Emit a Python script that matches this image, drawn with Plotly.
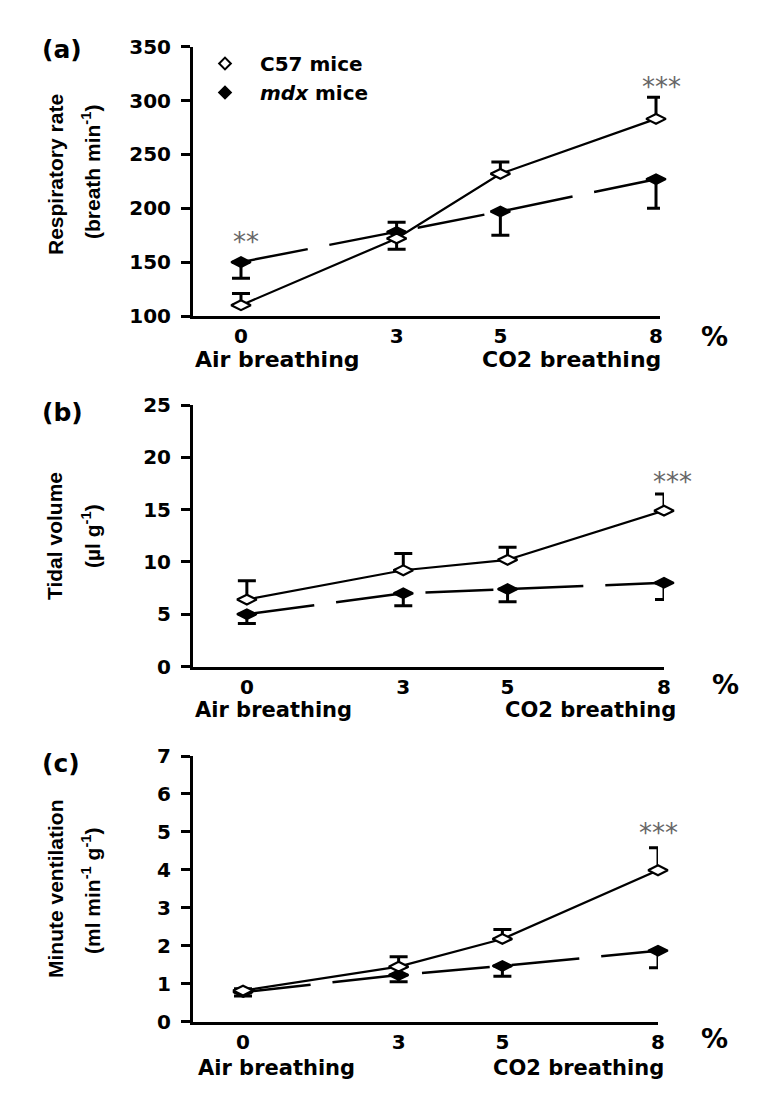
import plotly.graph_objects as go

# ---------------- data ----------------
co2_pct = [0, 3, 5, 8]
x_tick_labels = ["0", "3", "5", "8"]

rr_c57 = [110, 172, 232, 283]
rr_c57_err_up = [11, 0, 11, 20]
rr_c57_err_down = [0, 10, 0, 0]
rr_mdx = [150, 178, 197, 227]
rr_mdx_err_up = [0, 9, 0, 0]
rr_mdx_err_down = [15, 0, 22, 27]

tv_c57 = [6.4, 9.2, 10.2, 14.9]
tv_c57_err_up = [1.8, 1.6, 1.2, 1.6]
tv_mdx = [5.0, 7.0, 7.4, 8.0]
tv_mdx_err_down = [0.9, 1.2, 1.2, 1.6]

mv_c57 = [0.82, 1.45, 2.18, 3.99]
mv_c57_err_up = [0.05, 0.26, 0.25, 0.59]
mv_mdx = [0.78, 1.23, 1.47, 1.87]
mv_mdx_err_down = [0.1, 0.18, 0.27, 0.45]

OFF = 8  # page body margin
W, H = 768 - OFF, 1115 - OFF


def px(x):
    return (x - OFF) / W


def py(y):
    return 1 - (y - OFF) / H


BOLD = "DejaVu Sans"
fig = go.Figure()

panels = [
    ("", rr_c57, rr_c57_err_up, rr_c57_err_down, rr_mdx, rr_mdx_err_up, rr_mdx_err_down),
    ("2", tv_c57, tv_c57_err_up, [0] * 4, tv_mdx, [0] * 4, tv_mdx_err_down),
    ("3", mv_c57, mv_c57_err_up, [0] * 4, mv_mdx, [0] * 4, mv_mdx_err_down),
]

for suf, c57, c57u, c57d, mdx, mdxu, mdxd in panels:
    fig.add_trace(go.Scatter(
        x=co2_pct, y=mdx, mode="lines+markers", showlegend=False,
        xaxis="x" + suf, yaxis="y" + suf, cliponaxis=False,
        line=dict(color="black", width=2.5, dash="68px,22px"),
        marker=dict(symbol="diamond-wide", size=14, color="black",
                    line=dict(color="black", width=2)),
        error_y=dict(type="data", symmetric=False, array=mdxu, arrayminus=mdxd,
                     color="black", thickness=3, width=9),
    ))
    fig.add_trace(go.Scatter(
        x=co2_pct, y=c57, mode="lines+markers", showlegend=False,
        xaxis="x" + suf, yaxis="y" + suf, cliponaxis=False,
        line=dict(color="black", width=2.2),
        marker=dict(symbol="diamond-wide", size=14, color="white",
                    line=dict(color="black", width=2.2)),
        error_y=dict(type="data", symmetric=False, array=c57u, arrayminus=c57d,
                     color="black", thickness=3, width=9),
    ))

# legend entries
fig.add_trace(go.Scatter(x=[None], y=[None], mode="markers", name="C57 mice",
                         marker=dict(symbol="diamond", size=9, color="white",
                                     line=dict(color="black", width=2))))
fig.add_trace(go.Scatter(x=[None], y=[None], mode="markers", name="<i>mdx</i> mice",
                         marker=dict(symbol="diamond", size=9, color="black",
                                     line=dict(color="black", width=2))))

tickfont = dict(family=BOLD, size=20, color="black", weight="bold")


def xaxis(dom, rng, anchor):
    return dict(domain=[px(dom[0]), px(dom[1])], range=rng, anchor=anchor,
                tickvals=co2_pct, ticktext=x_tick_labels, ticks="",
                showline=True, linecolor="black", linewidth=3,
                showgrid=False, zeroline=False, tickfont=tickfont,
                ticklabelstandoff=0, fixedrange=True, automargin=False)


def yaxis(dom, rng, dtick, anchor):
    return dict(domain=[py(dom[1]), py(dom[0])], range=rng, anchor=anchor,
                dtick=dtick, ticks="outside", ticklen=9, tickwidth=3, tickcolor="black",
                showline=True, linecolor="black", linewidth=3,
                showgrid=False, zeroline=False, tickfont=tickfont,
                ticklabelstandoff=6, fixedrange=True, automargin=False)


fig.update_layout(
    template="none",
    width=W, height=H,
    margin=dict(l=0, r=0, t=0, b=0, pad=0),
    paper_bgcolor="white", plot_bgcolor="white",
    xaxis=xaxis((193, 660), [-0.925, 8.077], "y"),
    yaxis=yaxis((46.7, 316), [100, 350], 50, "x"),
    xaxis2=xaxis((193, 664), [-1.033, 8.0], "y2"),
    yaxis2=yaxis((405, 666.5), [0, 25], 5, "x2"),
    xaxis3=xaxis((193, 658), [-0.964, 8.0], "y3"),
    yaxis3=yaxis((756, 1021.7), [0, 7], 1, "x3"),
    showlegend=True,
    legend=dict(x=px(190), y=py(44), xanchor="left", yanchor="top",
                font=dict(family=BOLD, size=20, color="black", weight="bold"),
                bgcolor="rgba(0,0,0,0)", tracegroupgap=0, itemwidth=60,
                borderwidth=0),
)

ann = []


def text(x, y, s, size, xanchor="center", angle=0, color="black", weight="bold", family=BOLD):
    ann.append(dict(x=px(x), y=py(y), xref="paper", yref="paper", text=s,
                    showarrow=False, xanchor=xanchor, yanchor="middle", textangle=angle,
                    font=dict(family=family, size=size, color=color, weight=weight)))


# panel letters
text(40, 50, "(a)", 25, "left")
text(40, 412, "(b)", 25, "left")
text(40, 763, "(c)", 25, "left")

# % signs
text(714, 336, "%", 27)
text(725, 684, "%", 27)
text(714, 1038, "%", 27)

# x category labels
text(193, 359, "Air breathing", 22, "left")
text(663, 359, "CO2 breathing", 22, "right")
text(193, 710, "Air breathing", 21, "left")
text(678, 710, "CO2 breathing", 21, "right")
text(196, 1068, "Air breathing", 21, "left")
text(666, 1068, "CO2 breathing", 21, "right")

# y titles
YT = "Liberation Sans"
text(55, 175, "Respiratory rate", 21, angle=-90, family=YT)
text(91, 172, "(breath min<sup>-1</sup>)", 21, angle=-90, family=YT)
text(55, 536, "Tidal volume", 21, angle=-90, family=YT)
text(91, 536, "(µl g<sup>-1</sup>)", 21, angle=-90, family=YT)
text(55, 889, "Minute ventilation", 21, angle=-90, family=YT)
text(91, 891, "(ml min<sup>-1</sup> g<sup>-1</sup>)", 21, angle=-90, family=YT)

# significance stars
STAR = "#666666"
text(246, 242, "**", 26, color=STAR, weight="normal")
text(661, 87, "***", 26, color=STAR, weight="normal")
text(672, 482, "***", 26, color=STAR, weight="normal")
text(658, 833, "***", 26, color=STAR, weight="normal")

fig.update_layout(annotations=ann)
fig.write_html("out.html")
